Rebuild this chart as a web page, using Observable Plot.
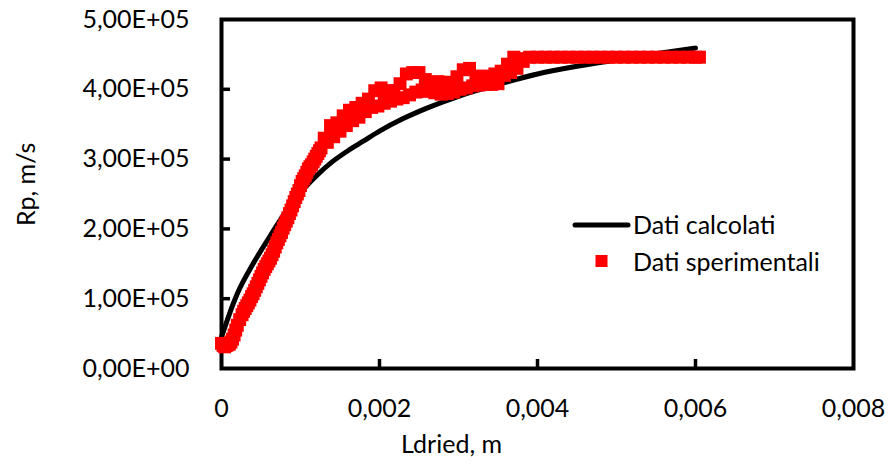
<!DOCTYPE html>
<html>
<head>
<meta charset="utf-8">
<script src="https://cdn.jsdelivr.net/npm/d3@7"></script>
<script src="https://cdn.jsdelivr.net/npm/@observablehq/plot@0.6"></script>
<style>
  html, body { margin: 0; padding: 0; background: #fff; }
  #chart { width: 892px; height: 465px; }
</style>
</head>
<body>
<div id="chart"></div>
<script>
// ---- Data ----
const xTicks = [0, 0.002, 0.004, 0.006, 0.008];
const yTicks = [0, 100000, 200000, 300000, 400000, 500000];

const seriesNames = ["Dati calcolati", "Dati sperimentali"];

// "Dati calcolati" (black curve)
const calcX = [0, 0.0001, 0.0002, 0.0004, 0.0006, 0.0008, 0.001, 0.0012, 0.0014, 0.0016, 0.0018,
               0.002, 0.0023, 0.0026, 0.003, 0.0035, 0.004, 0.0045, 0.005, 0.0055, 0.006];
const calcY = [45000, 78000, 107000, 150000, 187000, 222000, 252000, 276000, 296000, 312000, 326000,
               340000, 358000, 373000, 390000, 407000, 422000, 433000, 442000, 451000, 459000];

// "Dati sperimentali" (red squares)
const expX = [0, 0.00002, 0.00004, 0.00006, 0.00008, 0.0001, 0.00012, 0.00014, 0.00016, 0.00018,
  0.0002, 0.00023, 0.00026, 0.0003, 0.00034, 0.00038, 0.00042, 0.00046, 0.0005, 0.00054,
  0.00058, 0.00062, 0.00066, 0.0007, 0.00074, 0.00078, 0.00082, 0.00086, 0.0009, 0.00094,
  0.00098, 0.00102, 0.00106, 0.0011, 0.00114, 0.00118, 0.00122, 0.00126, 0.0013, 0.00134,
  0.00138, 0.00142, 0.00146, 0.0015, 0.00154, 0.00158, 0.00162, 0.00166, 0.0017, 0.00174,
  0.00178, 0.00182, 0.00186, 0.0019, 0.00194, 0.00198, 0.00202, 0.00206, 0.0021, 0.00214,
  0.00218, 0.00222, 0.00226, 0.0023, 0.00234, 0.00238, 0.00242, 0.00246, 0.0025, 0.00254,
  0.00258, 0.00262, 0.00266, 0.0027, 0.00274, 0.00278, 0.00282, 0.00286, 0.0029, 0.00294,
  0.00298, 0.00302, 0.00306, 0.0031, 0.00314, 0.00318, 0.00322, 0.00326, 0.0033, 0.00334,
  0.00338, 0.00342, 0.00346, 0.0035, 0.00354, 0.00358, 0.00362, 0.00366, 0.0037, 0.00374,
  0.00378, 0.00382, 0.0039, 0.004, 0.0041, 0.0042, 0.0043, 0.0044, 0.0045, 0.0046,
  0.0047, 0.0048, 0.0049, 0.005, 0.0051, 0.0052, 0.0053, 0.0054, 0.0055, 0.0056,
  0.0057, 0.0058, 0.0059, 0.006, 0.00605,
  0.00028, 0.00032, 0.00036, 0.0004, 0.00044, 0.00048, 0.00052, 0.00056, 0.0006, 0.00064,
  0.00068, 0.00072, 0.00076, 0.0008, 0.00084, 0.00088, 0.00092, 0.00096, 0.001, 0.00104,
  0.00108, 0.00112, 0.00116, 0.0012, 0.00124];
const expY = [36000, 33000, 31000, 33000, 34000, 35000, 38000, 42000, 48000, 55000,
  62000, 70000, 77000, 86000, 94000, 103000, 112000, 122000, 132000, 142000,
  150000, 158000, 168000, 180000, 190000, 201000, 211000, 222000, 233000, 245000,
  255000, 268000, 276000, 286000, 292000, 300000, 308000, 316000, 330000, 324000,
  348000, 332000, 352000, 340000, 362000, 348000, 370000, 355000, 374000, 360000,
  380000, 368000, 386000, 374000, 398000, 376000, 402000, 380000, 398000, 383000,
  398000, 386000, 408000, 388000, 422000, 392000, 424000, 396000, 424000, 399000,
  414000, 397000, 410000, 395000, 411000, 393000, 410000, 394000, 410000, 396000,
  418000, 400000, 428000, 402000, 430000, 405000, 418000, 406000, 419000, 407000,
  418000, 407000, 422000, 408000, 426000, 420000, 436000, 424000, 446000, 430000,
  444000, 440000, 446000, 446000, 446000, 446000, 446000, 446000, 446000, 446000,
  446000, 446000, 446000, 446000, 446000, 446000, 446000, 446000, 446000, 446000,
  446000, 446000, 446000, 446000, 446000,
  82000, 90000, 98000, 107000, 117000, 127000, 137000, 146000, 154000, 163000,
  174000, 185000, 195000, 206000, 216000, 227000, 239000, 250000, 262000, 272000,
  281000, 289000, 296000, 304000, 312000];

const calc = calcX.map((x, i) => ({x, y: calcY[i]}));
const exp = expX.map((x, i) => ({x, y: expY[i]}));

const fx = v => v === 0 ? "0" : String(+v.toFixed(3)).replace(".", ",");
const fy = v => {
  const [m, e] = v.toExponential(2).split("e");
  const n = Math.abs(+e);
  return m.replace(".", ",") + "E" + (+e < 0 ? "-" : "+") + String(n).padStart(2, "0");
};

const FONT = "Lato, 'Open Sans', sans-serif";

const chart = Plot.plot({
  width: 892,
  height: 465,
  marginLeft: 221,
  marginRight: 39,
  marginTop: 19,
  marginBottom: 97,
  x: {domain: [0, 0.008], label: null},
  y: {domain: [0, 500000], label: null},
  style: {fontFamily: FONT, fontSize: "25px", color: "#000", background: "#fff", overflow: "visible"},
  marks: [
    Plot.axisX(xTicks, {tickSize: 0, tickPadding: 31, tickFormat: fx, fontSize: 25, label: null, fill: "#000"}),
    Plot.axisX(xTicks.slice(1, -1), {tickSize: 9, dy: -9, text: null, label: null, stroke: "#000", strokeWidth: 3.5}),
    Plot.axisY(yTicks, {tickSize: 0, tickPadding: 32, tickFormat: fy, fontSize: 25, label: null, fill: "#000"}),
    Plot.axisY(yTicks.slice(1, -1), {tickSize: 9, dx: 9, text: null, label: null, stroke: "#000", strokeWidth: 3.5}),
    Plot.frame({stroke: "#000", strokeWidth: 4}),
    Plot.line(calc, {x: "x", y: "y", stroke: "#000", strokeWidth: 5, curve: "monotone-x"}),
    Plot.dot(exp, {x: "x", y: "y", symbol: "square", r: 7.3, fill: "#ff0000", stroke: "none"}),
    Plot.text(["Ldried, m"], {frameAnchor: "bottom", dx: -86, dy: 84, fontSize: 25, fill: "#000"}),
    Plot.text(["Rp, m/s"], {frameAnchor: "left", rotate: -90, dx: -195, dy: 32, fontSize: 25, fill: "#000"})
  ]
});

// Legend (inside plot area)
const svg = d3.select(chart);
const lg = svg.append("g").attr("font-family", FONT).attr("font-size", 25)
  .attr("fill", "#000").attr("text-anchor", "start");
lg.append("line").attr("x1", 575).attr("x2", 628).attr("y1", 225).attr("y2", 225)
  .attr("stroke", "#000").attr("stroke-width", 5).attr("stroke-linecap", "round");
lg.append("text").attr("x", 633).attr("y", 225).attr("dy", "0.35em").text(seriesNames[0]);
lg.append("rect").attr("x", 595.5).attr("y", 255).attr("width", 12).attr("height", 12).attr("fill", "#ff0000");
lg.append("text").attr("x", 633).attr("y", 262).attr("dy", "0.35em").text(seriesNames[1]);

document.getElementById("chart").appendChild(chart);
</script>
</body>
</html>
